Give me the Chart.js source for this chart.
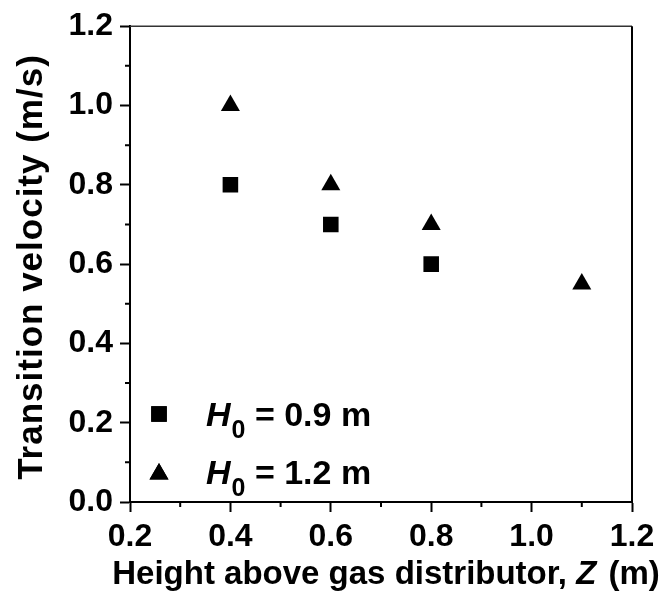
<!DOCTYPE html>
<html>
<head>
<meta charset="utf-8">
<script src="https://cdn.jsdelivr.net/npm/chart.js@4/dist/chart.umd.min.js"></script>
<style>
  body { margin: 0; background: #fff; }
  #wrap { width: 665px; height: 596px; position: relative; }
</style>
</head>
<body>
<div id="wrap"><canvas id="transitionChart"></canvas></div>
<script>
// data
const zSquare = [0.4, 0.6, 0.8];
const vSquare = [0.8, 0.7, 0.6];
const zTriangle = [0.4, 0.6, 0.8, 1.1];
const vTriangle = [1.0, 0.8, 0.7, 0.55];
const h0Labels = ['0.9', '1.2'];
const xTicks = [0.2, 0.4, 0.6, 0.8, 1.0, 1.2];
const yTicks = [0.0, 0.2, 0.4, 0.6, 0.8, 1.0, 1.2];

const FAM = '"Liberation Sans", Arial, sans-serif';

function toPoints(xs, ys) {
    return xs.map((x, i) => ({ x: x, y: ys[i] }));
}

// draw text made of runs (normal / italic / subscript)
function drawRuns(ctx, runs, x, y) {
    runs.forEach(r => {
        ctx.font = r.font;
        ctx.fillText(r.text, x, y + (r.dy || 0));
        x += ctx.measureText(r.text).width + (r.gap || 0);
    });
}
function runsWidth(ctx, runs) {
    let w = 0;
    runs.forEach(r => { ctx.font = r.font; w += ctx.measureText(r.text).width + (r.gap || 0); });
    return w;
}

const extras = {
    id: 'extras',
    afterDraw(chart) {
        const ctx = chart.ctx;
        const a = chart.chartArea;
        const xs = chart.scales.x, ys = chart.scales.y;
        ctx.save();
        ctx.strokeStyle = '#000';
        ctx.fillStyle = '#000';

        // top and right frame
        ctx.lineWidth = 1.5;
        ctx.strokeStyle = '#333';
        ctx.beginPath();
        ctx.moveTo(a.left, a.top); ctx.lineTo(a.right, a.top);
        ctx.stroke();
        ctx.lineWidth = 2;
        ctx.strokeStyle = '#000';
        ctx.beginPath();
        ctx.moveTo(a.right, a.top); ctx.lineTo(a.right, a.bottom);
        ctx.stroke();

        // minor ticks
        ctx.beginPath();
        for (let i = 0; i < xTicks.length - 1; i++) {
            const px = xs.getPixelForValue((xTicks[i] + xTicks[i + 1]) / 2);
            ctx.moveTo(px, a.bottom); ctx.lineTo(px, a.bottom + 5);
        }
        for (let i = 0; i < yTicks.length - 1; i++) {
            const py = ys.getPixelForValue((yTicks[i] + yTicks[i + 1]) / 2);
            ctx.moveTo(a.left, py); ctx.lineTo(a.left - 5, py);
        }
        ctx.stroke();

        // axis titles
        ctx.textBaseline = 'alphabetic';
        const tb = 'bold 33px ' + FAM, ti = 'italic bold 33px ' + FAM;
        const xRuns = [
            { text: 'Height above gas distributor, ', font: tb },
            { text: 'Z', font: ti, gap: 3 },
            { text: ' (m)', font: tb }
        ];
        const xw = runsWidth(ctx, xRuns);
        drawRuns(ctx, xRuns, (a.left + a.right) / 2 + 5 - xw / 2, 584);

        ctx.save();
        ctx.letterSpacing = '1px';
        const yRuns = [{ text: 'Transition velocity (m/s)', font: 'bold 35px ' + FAM }];
        const yw = runsWidth(ctx, yRuns);
        ctx.translate(42, 267);
        ctx.rotate(-Math.PI / 2);
        drawRuns(ctx, yRuns, -yw / 2, 0);
        ctx.restore();

        // legend
        const rows = [{ my: 414, ty: 426 }, { my: 474, ty: 484 }];
        chart.data.datasets.forEach((ds, i) => {
            Chart.helpers.drawPoint(ctx, {
                pointStyle: ds.pointStyle, radius: ds.pointRadius,
                rotation: 0, borderWidth: 0
            }, 159, rows[i].my);
            ctx.fill();
            drawRuns(ctx, [
                { text: 'H', font: 'italic bold 34px ' + FAM, gap: 1 },
                { text: '0', font: 'bold 25px ' + FAM, dy: 12 },
                { text: ' = ' + h0Labels[i] + ' m', font: 'bold 34px ' + FAM }
            ], 206, rows[i].ty);
        });
        ctx.restore();
    }
};

const ctx = document.getElementById('transitionChart').getContext('2d');
new Chart(ctx, {
    type: 'scatter',
    data: {
        datasets: [{
            label: 'H0 = ' + h0Labels[0] + ' m',
            data: toPoints(zSquare, vSquare),
            pointStyle: 'rect',
            pointRadius: 11,
            pointBackgroundColor: '#000',
            pointBorderWidth: 0
        }, {
            label: 'H0 = ' + h0Labels[1] + ' m',
            data: toPoints(zTriangle, vTriangle),
            pointStyle: 'triangle',
            pointRadius: 11,
            pointBackgroundColor: '#000',
            pointBorderWidth: 0
        }]
    },
    options: {
        responsive: true,
        maintainAspectRatio: false,
        animation: false,
        layout: { padding: { left: 0, top: 23, right: 33, bottom: 0 } },
        plugins: {
            legend: { display: false },
            tooltip: { enabled: false }
        },
        scales: {
            x: {
                type: 'linear',
                min: 0.2, max: 1.2,
                afterFit: s => { s.height = 94; },
                afterBuildTicks: s => { s.ticks = xTicks.map(v => ({ value: v })); },
                ticks: {
                    padding: 6,
                    color: '#000',
                    font: { family: FAM, size: 32, weight: 'bold' },
                    callback: v => v.toFixed(1)
                },
                grid: { drawOnChartArea: false, drawTicks: true, tickLength: 10, tickWidth: 2, tickColor: '#000' },
                border: { color: '#000', width: 2 }
            },
            y: {
                type: 'linear',
                min: 0, max: 1.2,
                afterFit: s => { s.width = 130; },
                afterBuildTicks: s => { s.ticks = yTicks.map(v => ({ value: v })); },
                ticks: {
                    padding: 7,
                    color: '#000',
                    font: { family: FAM, size: 32, weight: 'bold' },
                    callback: v => v.toFixed(1)
                },
                grid: { drawOnChartArea: false, drawTicks: true, tickLength: 10, tickWidth: 2, tickColor: '#000' },
                border: { color: '#000', width: 2 }
            }
        }
    },
    plugins: [extras]
});
</script>
</body>
</html>
